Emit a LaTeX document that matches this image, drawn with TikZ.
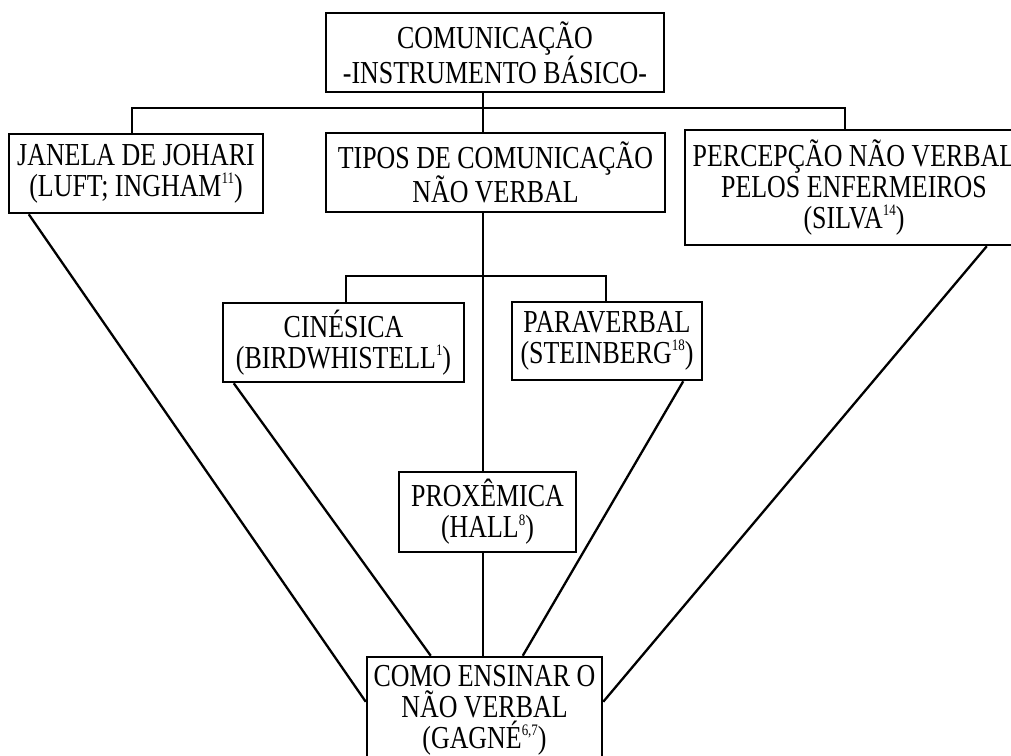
\documentclass[tikz,border=0pt]{standalone}
\usepackage{fontspec}
\setmainfont{Liberation Serif}[FakeStretch=0.81]
\usetikzlibrary{calc}
\newcommand\sps[1]{\raisebox{0.40em}{\fontsize{16}{16}\selectfont #1}}
\begin{document}
\begin{tikzpicture}[x=1pt,y=-1pt,
  box/.style={draw, line width=2.5pt, rectangle, inner sep=0pt, align=center,
              font=\fontsize{32}{31}\selectfont},
  conn/.style={line width=2.3pt}]
\useasboundingbox (0,0) rectangle (1011,755);
\fill[white] (0,0) rectangle (1011,755);

\node[box, minimum width=338pt, minimum height=79pt] (top) at (495,52.5)
  {COMUNICAÇÃO\\-INSTRUMENTO BÁSICO-};
\node[box, minimum width=254pt, minimum height=79pt] (janela) at (136,173.5)
  {JANELA DE JOHARI\\(LUFT; INGHAM\sps{11})};
\node[box, minimum width=339pt, minimum height=79pt] (tipos) at (495.5,172.5)
  {TIPOS DE COMUNICAÇÃO\\NÃO VERBAL};
\node[box, minimum width=338pt, minimum height=115pt] (perc) at (854,187.5)
  {PERCEPÇÃO NÃO VERBAL\\PELOS ENFERMEIROS\\(SILVA\sps{14})};
\node[box, minimum width=241pt, minimum height=79pt] (cin) at (343.5,342.5)
  {CINÉSICA\\(BIRDWHISTELL\sps{1})};
\node[box, minimum width=190pt, minimum height=78pt] (para) at (607,341)
  {PARAVERBAL\\(STEINBERG\sps{18})};
\node[box, minimum width=177pt, minimum height=80pt] (prox) at (487.5,512)
  {PROXÊMICA\\(HALL\sps{8})};
\node[box, minimum width=235pt, minimum height=106pt] (bot) at (484.5,710)
  {COMO ENSINAR O\\NÃO VERBAL\\(GAGNÉ\sps{6,7})};

\coordinate (jl) at (132,108);
\coordinate (jm) at (483,108);
\coordinate (jr) at (845,108);
\coordinate (kl) at (346,276);
\coordinate (km) at (483,276);
\coordinate (kr) at (606,276);

\draw[conn] (jm |- top.south) -- (jm);
\draw[conn] (jl |- janela.north) -- (jl) -- (jr) -- (jr |- perc.north);
\draw[conn] (jm) -- (jm |- tipos.north);

\draw[conn] (km |- tipos.south) -- (km |- prox.north);
\draw[conn] (kl |- cin.north) -- (kl) -- (kr) -- (kr |- para.north);
\draw[conn] (km |- prox.south) -- (km |- bot.north);

\draw[conn] ($(janela.south west)+(21,0)$) -- ($(bot.north west)+(0,46)$);
\draw[conn] ($(cin.south west)+(12,0)$) -- ($(bot.north west)+(65,0)$);
\draw[conn] ($(para.south east)+(-20,0)$) -- ($(bot.north west)+(157,0)$);
\draw[conn] ($(perc.south west)+(303,0)$) -- ($(bot.north east)+(0,46)$);
\end{tikzpicture}
\end{document}
